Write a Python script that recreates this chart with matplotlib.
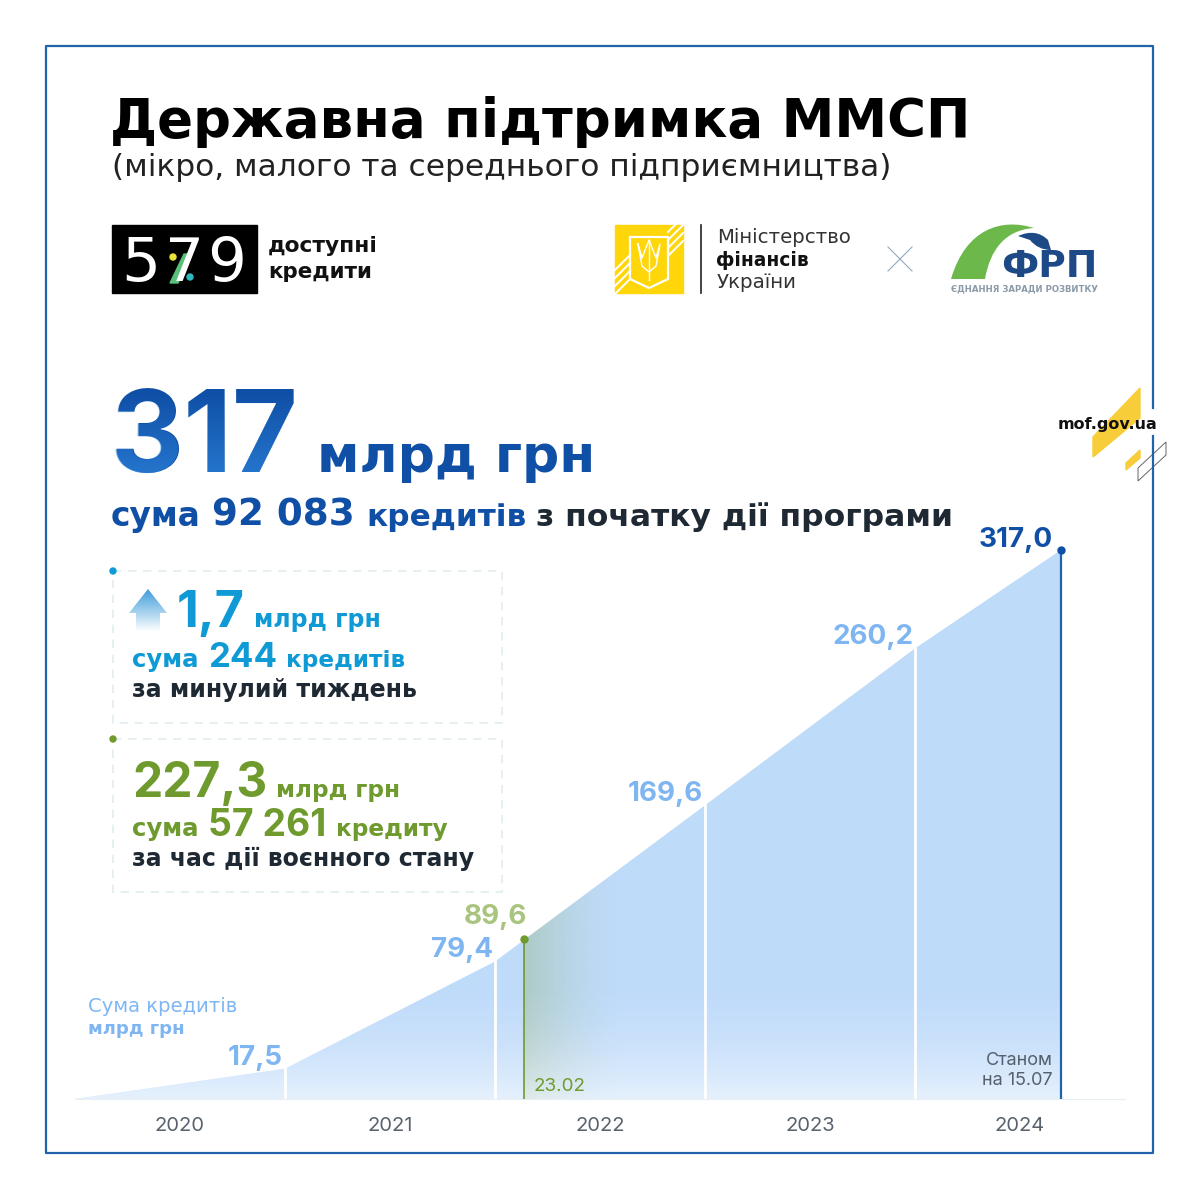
import numpy as np
import matplotlib
matplotlib.use('Agg')
import matplotlib.pyplot as plt
from matplotlib.patches import Polygon, Rectangle, Circle, PathPatch
from matplotlib.path import Path
from matplotlib.textpath import TextPath
from matplotlib.font_manager import FontProperties
from matplotlib.colors import to_rgb

# chart values
dates = [2020.0, 2021.0, 2022.0, 2023.0, 2024.0, 2024.695]
totals = [0, 17.5, 79.4, 169.6, 260.2, 317.0]
total_labels = ['17,5', '79,4', '169,6', '260,2', '317,0']
year_ticks = [2020.5, 2021.5, 2022.5, 2023.5, 2024.5]
year_labels = ['2020', '2021', '2022', '2023', '2024']
war_date = 2022.14
war_height = 92.3
war_label = '89,6'
war_date_label = '23.02'

BLUE = '#0f4fa6'
FRAME = '#2063a8'
CYAN = '#0f9ad6'
GREEN = '#6f9a2e'
DARK = '#1f2933'
LIGHT = '#7fb6f2'
FILL = '#bfdbfa'
WIDE = 'DejaVu Sans'
NUM = 'Inter'

fig = plt.figure(figsize=(12, 12), dpi=100, facecolor='white')
ax = fig.add_axes([0, 0, 1, 1])
ax.set_xlim(0, 1200)
ax.set_ylim(1200, 0)
ax.axis('off')
renderer = fig.canvas.get_renderer()


def put(x0, x1, y, text, color=DARK, weight='bold', family=WIDE):
    # scale the font so the text runs from x0 to x1
    t = ax.text(x0, y, text, color=color, fontweight=weight, family=family,
                fontsize=20, va='baseline', ha='left')
    w = t.get_window_extent(renderer).width
    t.set_fontsize(20 * (x1 - x0) / w)
    return t


# frame, broken by the site address
ax.plot([1153, 1153, 46, 46, 1153, 1153], [408, 46, 46, 1153, 1153, 436], color=FRAME, lw=1.6)

put(110, 970, 137, 'Державна підтримка ММСП', color='black')
put(112, 889, 176, '(мікро, малого та середнього підприємництва)', color='#222222', weight='normal')

# 579 logo
ax.add_patch(Rectangle((112, 225), 145, 68, color='black'))
for x0, x1, d in [(121, 160, '5'), (165, 204, '7'), (207, 246, '9')]:
    put(x0, x1, 281, d, color='white', weight='normal')
ax.add_patch(Polygon([(170, 283), (178, 283), (192, 254), (184, 254)], color='#58c07a'))
ax.add_patch(Circle((173, 257), 3, color='#e6e33a'))
ax.add_patch(Circle((190, 277), 3, color='#2fb8c0'))
put(268, 378, 252, 'доступні', color='#111111')
put(268, 372, 278, 'кредити', color='#111111')

# ministry logo
ax.add_patch(Rectangle((615, 225), 68, 68, color='#ffd60a'))
for k in range(4):
    ax.plot([668, 683], [232 + k * 8, 217 + k * 8], color='white', lw=1.4, clip_path=ax.patches[-1])
    ax.plot([615, 630], [270 + k * 8, 255 + k * 8], color='white', lw=1.4, clip_path=ax.patches[-1])
ax.plot([630, 668, 668, 649, 630, 630], [237, 237, 279, 288, 279, 237], color='white', lw=1.6)
ax.plot([638, 642, 649, 656, 660, 656, 649, 642, 638], [244, 266, 272, 266, 244, 258, 240, 258, 244], color='white', lw=1)
ax.plot([649, 649], [240, 280], color='white', lw=1)
ax.plot([701, 701], [225, 293], color='#222222', lw=1.2)
put(717, 851, 243, 'Міністерство', color='#333333', weight='normal')
put(716, 809, 266, 'фінансів', color='#111111')
put(717, 797, 288, 'України', color='#333333', weight='normal')
ax.plot([888, 912], [247, 271], color='#8fa8c4', lw=0.8)
ax.plot([888, 912], [271, 247], color='#8fa8c4', lw=0.8)

# ФРП logo
arch = Path([(951, 279), (966, 228), (1002, 218), (1034, 228), (1005, 230), (990, 250), (985, 279), (951, 279)],
            [Path.MOVETO, Path.CURVE4, Path.CURVE4, Path.CURVE4, Path.CURVE4, Path.CURVE4, Path.CURVE4, Path.CLOSEPOLY])
ax.add_patch(PathPatch(arch, color='#6cb84a', lw=0))
arc = Path([(1018, 236), (1036, 228), (1048, 240), (1051, 250), (1038, 250), (1030, 240), (1018, 236)],
           [Path.MOVETO, Path.CURVE3, Path.CURVE3, Path.LINETO, Path.CURVE3, Path.CURVE3, Path.CLOSEPOLY])
ax.add_patch(PathPatch(arc, color='#1d4a86', lw=0))
put(1001, 1097, 277, 'ФРП', color='#1d4a86')
put(951, 1097, 291, 'ЄДНАННЯ ЗАРАДИ РОЗВИТКУ', color='#8a9aa8')

# corner decoration
ax.add_patch(Polygon([(1140, 388), (1140, 418), (1093, 457), (1093, 437)], color='#f8cd3a'))
ax.add_patch(Polygon([(1140, 450), (1140, 458), (1126, 470), (1126, 463)], color='#f8cd3a'))
ax.add_patch(Polygon([(1166, 442), (1166, 455), (1138, 481), (1138, 468)], fill=False, ec='#666666', lw=0.7))
put(1058, 1158, 429, 'mof.gov.ua', color='#111111')

# headline, brighter towards the foot of the digits
big = put(110, 298, 472, '317', color=BLUE, family=NUM)
path = TextPath((110, 0), '317', size=big.get_fontsize() * 100 / 72,
                prop=FontProperties(family=NUM, weight='bold'))
path = Path(np.column_stack([path.vertices[:, 0], 472 - path.vertices[:, 1]]), path.codes)
shine = np.ones((64, 1, 4))
shine[:, :, :3] = to_rgb('#2f86de')
shine[:, :, 3] = np.linspace(0.7, 0, 64)[:, None]
im = ax.imshow(shine, extent=(105, 305, 475, 390), origin='lower', aspect='auto', zorder=3)
im.set_clip_path(PathPatch(path, transform=ax.transData))
ax.set_xlim(0, 1200)
ax.set_ylim(1200, 0)
put(317, 595, 472, 'млрд грн', color=BLUE)
put(111, 201, 526, 'сума', color=BLUE)
put(212, 355, 526, '92 083', color=BLUE)
put(366, 526, 526, 'кредитів', color=BLUE)
put(536, 953, 526, 'з початку дії програми')

# boxes
for top, bottom, col in [(571, 723, CYAN), (739, 892, GREEN)]:
    ax.add_patch(Rectangle((113, top), 389, bottom - top, fill=False, ec='#e2ecf0', lw=1.2, ls=(0, (5, 4))))
    ax.add_patch(Circle((113, top), 3, color=col))

arrow = Polygon([(148, 589), (167, 613), (160, 613), (160, 632), (136, 632), (136, 613), (129, 613)], fc='none', ec='none')
ax.add_patch(arrow)
grad = np.ones((64, 1, 4))
grad[:, :, :3] = to_rgb('#3f9ddb')
grad[:, :, 3] = np.linspace(1, 0, 64)[:, None]
im = ax.imshow(grad, extent=(129, 167, 632, 589), aspect='auto')
im.set_clip_path(arrow)
ax.set_xlim(0, 1200)
ax.set_ylim(1200, 0)

put(177, 245, 627, '1,7', color=CYAN, family=NUM)
put(254, 380, 627, 'млрд грн', color=CYAN)
put(132, 199, 667, 'сума', color=CYAN)
put(208, 277, 667, '244', color=CYAN, family=NUM)
put(286, 405, 667, 'кредитів', color=CYAN)
put(132, 417, 697, 'за минулий тиждень')

put(132, 267, 797, '227,3', color=GREEN, family=NUM)
put(276, 400, 797, 'млрд грн', color=GREEN)
put(132, 199, 836, 'сума', color=GREEN)
put(208, 326, 836, '57 261', color=GREEN, family=NUM)
put(336, 447, 836, 'кредиту', color=GREEN)
put(132, 474, 866, 'за час дії воєнного стану')

put(88, 237, 1012, 'Сума кредитів', color=LIGHT, weight='normal')
put(88, 185, 1034, 'млрд грн', color=LIGHT)

# chart area: 2020..2025 spans px 75..1125, 0..317 spans px 1099..550
chart = fig.add_axes([75 / 1200, 1 - 1099 / 1200, 1050 / 1200, 549 / 1200], facecolor='none')

area = Polygon(list(zip(dates, totals)) + [(dates[-1], 0)], closed=True, fc=FILL, ec='none')
chart.add_patch(area)

# green band from the start of the war
band = np.ones((1, 64, 4))
band[:, :, :3] = to_rgb('#8fae6a')
band[:, :, 3] = 0.36 * (1 - np.linspace(0, 1, 64)) ** 1.6
im = chart.imshow(band, extent=(war_date, 2022.62, 0, 317), aspect='auto', zorder=2)
im.set_clip_path(area)

# pale towards the baseline
fade = np.ones((64, 1, 4))
fade[:, :, 3] = (0.6 * (1 - np.linspace(0, 1, 64)) ** 2)[:, None]
im = chart.imshow(fade, extent=(2020, 2025, 0, 75), origin='lower', aspect='auto', zorder=2.5)
im.set_clip_path(area)
chart.set_xlim(2020, 2025)
chart.set_ylim(0, 317)

for d, v in zip(dates[1:-1], totals[1:-1]):
    chart.plot([d, d], [0, v], color='white', lw=2, zorder=3)
chart.plot([dates[-1], dates[-1]], [0, totals[-1]], color=FRAME, lw=1.6, zorder=3)
chart.plot(dates[-1], totals[-1], 'o', color=BLUE, ms=5, zorder=4, clip_on=False)
chart.plot([war_date, war_date], [0, war_height], color=GREEN, lw=1.2, zorder=3)
chart.plot(war_date, war_height, 'o', color=GREEN, ms=5, zorder=4)

for i, (d, v, s) in enumerate(zip(dates[1:], totals[1:], total_labels)):
    last = i == len(total_labels) - 1
    chart.annotate(s, (d, v), xytext=(-8 if last else -2, -3 if last else -2), textcoords='offset pixels',
                   ha='right', va='bottom', fontsize=20, fontweight='bold', family=NUM,
                   color=BLUE if last else LIGHT, zorder=5, annotation_clip=False)
chart.annotate(war_label, (war_date, war_height), xytext=(3, 9), textcoords='offset pixels', ha='right', va='bottom',
               fontsize=20, fontweight='bold', family=NUM, color='#a8c47f', zorder=5)
chart.annotate(war_date_label, (war_date, 0), xytext=(9, 8), textcoords='offset pixels', fontsize=13.5,
               family=NUM, color=GREEN, zorder=5)
chart.text(1053, 1065, 'Станом', transform=ax.transData, ha='right', fontsize=13, family=NUM, color='#55606c', zorder=5)
chart.text(1053, 1085, 'на 15.07', transform=ax.transData, ha='right', fontsize=13, family=NUM, color='#55606c', zorder=5)

chart.set_yticks([])
chart.set_xticks(year_ticks)
chart.set_xticklabels(year_labels, fontsize=14.5, family=NUM, color='#59636e')
chart.tick_params(axis='x', length=0, pad=13)
for side in ['top', 'left', 'right']:
    chart.spines[side].set_visible(False)
chart.spines['bottom'].set_color('#e8eef3')

fig.savefig('out.png', dpi=100)
